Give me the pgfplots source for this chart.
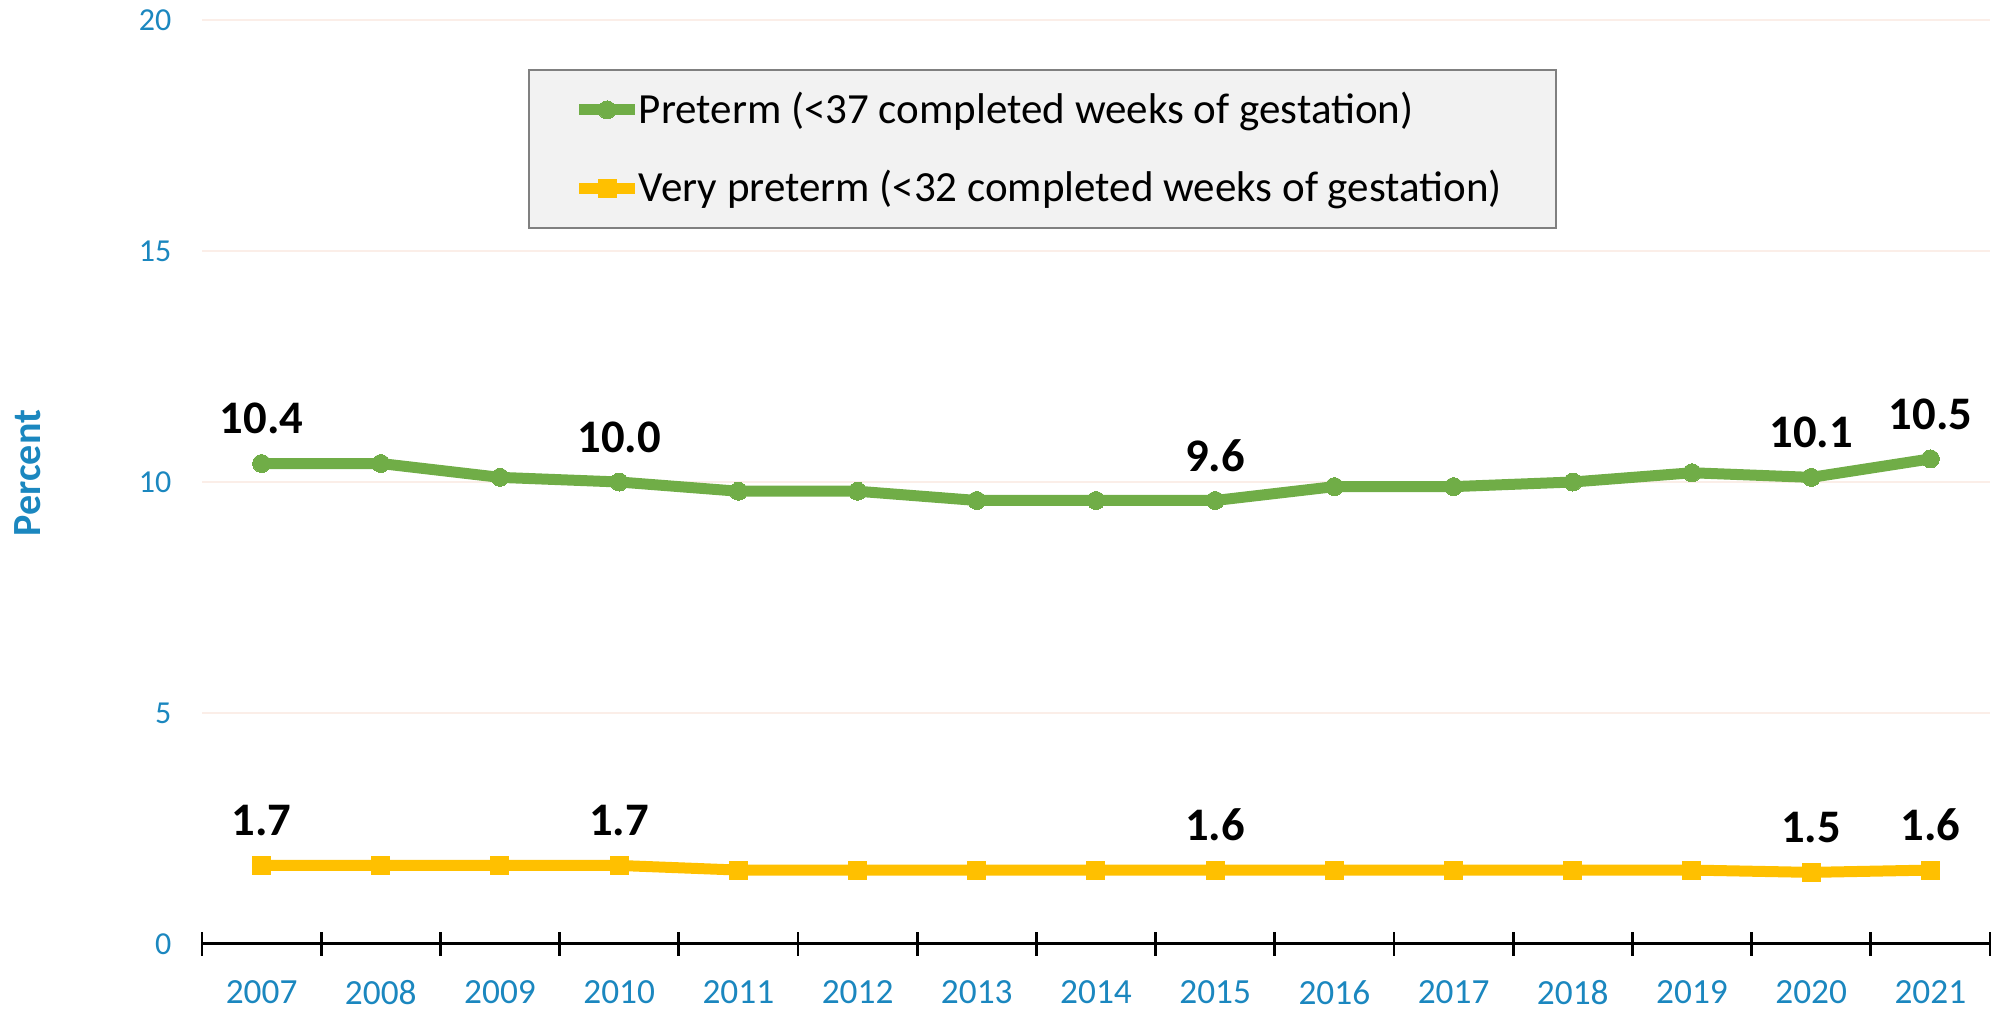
\documentclass[border=0pt]{standalone}
\usepackage{fontspec}
\setmainfont{Carlito}
\usepackage{pgfplots}
\pgfplotsset{compat=1.18}
\definecolor{tickblue}{HTML}{1B87BF}
\definecolor{pgreen}{HTML}{70AD47}
\definecolor{pyellow}{HTML}{FFC000}
\definecolor{gridc}{HTML}{FBEEE8}
\definecolor{legfill}{HTML}{F2F2F2}
\definecolor{legdraw}{HTML}{808080}
\begin{document}
\begin{tikzpicture}
\begin{axis}[
  scale only axis, width=536.4pt, height=277.2pt,
  xmin=-0.5, xmax=14.5, ymin=0, ymax=20,
  clip=false,
  axis x line=bottom, axis y line=left,
  axis line style={-},
  y axis line style={draw=none},
  x axis line style={black, line width=0.9pt},
  /pgf/number format/assume math mode=true,
  ytick={0,5,10,15,20},
  ymajorgrids, major grid style={gridc, line width=0.6pt},
  ytick style={draw=none},
  yticklabel style={tickblue, font=\fontsize{9.6}{10}\selectfont, inner sep=0pt, xshift=-9pt},
  xtick={0,...,14},
  xticklabels={2007,2008,2009,2010,2011,2012,2013,2014,2015,2016,2017,2018,2019,2020,2021},
  major tick length=0pt,
  minor xtick={-0.5,0.5,...,14.5},
  minor tick length=6.9pt, tick align=center,
  minor tick style={black, line width=0.8pt},
  xticklabel style={tickblue, font=\fontsize{10.6}{11}\selectfont, inner sep=0pt, anchor=north, yshift=-10.8pt},
  ylabel={Percent},
  every axis y label/.style={at={(axis description cs:-0.0973,0.5097)}, rotate=90, anchor=center, font=\bfseries\fontsize{12}{12}\selectfont, text=tickblue},
  nodes near coords,
  point meta=explicit symbolic,
  every node near coord/.append style={font=\bfseries\fontsize{14}{14}\selectfont, text=black, anchor=center, yshift=13.5pt},
  legend image code/.code={\draw[mark repeat=2,mark phase=2,#1] plot coordinates {(0pt,0pt) (8.4pt,0pt) (16.8pt,0pt)};},
  legend cell align=left,
  legend style={at={(axis description cs:0.1823,0.947)}, anchor=north west,
    fill=legfill, draw=legdraw, line width=0.6pt,
    font=\fontsize{12.9}{15}\selectfont,
    inner xsep=13.4pt, inner ysep=6.5pt, row sep=12.6pt, column sep=-0.5pt,
    nodes={inner sep=0pt}},
]
\addplot[pgreen, line width=3.3pt, mark=*, mark size=2.7pt, mark options={solid, fill=pgreen, draw=pgreen, line width=0pt}]
coordinates {
(0,10.4) [10.4]
(1,10.4) []
(2,10.1) []
(3,10.0) [10.0]
(4,9.8) []
(5,9.8) []
(6,9.6) []
(7,9.6) []
(8,9.6) [9.6]
(9,9.9) []
(10,9.9) []
(11,10.0) []
(12,10.2) []
(13,10.1) [10.1]
(14,10.5) [10.5]
};
\addlegendentry{Preterm (<37 completed weeks of gestation)}
\addplot[pyellow, line width=3.3pt, mark=square*, mark size=2.7pt, mark options={solid, fill=pyellow, draw=pyellow, line width=0pt}]
coordinates {
(0,1.7) [1.7]
(1,1.7) []
(2,1.7) []
(3,1.7) [1.7]
(4,1.6) []
(5,1.6) []
(6,1.6) []
(7,1.6) []
(8,1.6) [1.6]
(9,1.6) []
(10,1.6) []
(11,1.6) []
(12,1.6) []
(13,1.55) [1.5]
(14,1.6) [1.6]
};
\addlegendentry{Very preterm (<32 completed weeks of gestation)\hspace*{2.8pt}}
\end{axis}
\pgfresetboundingbox
\path[use as bounding box] (-60.6pt,-19.8pt) rectangle (540.3pt,283.2pt);
\end{tikzpicture}
\end{document}
